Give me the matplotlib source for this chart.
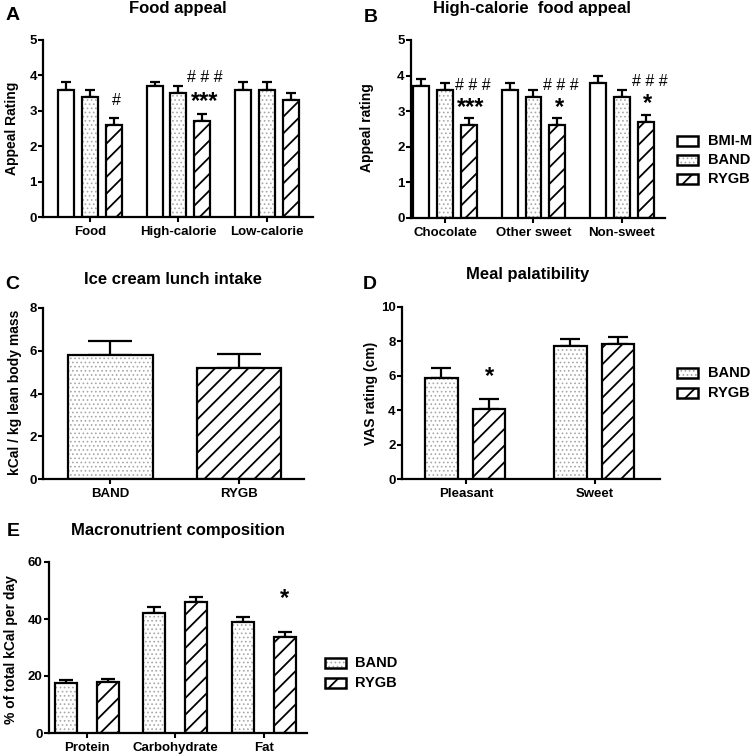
import matplotlib
matplotlib.use("Agg")
import matplotlib.pyplot as plt
from matplotlib.patches import Rectangle
import numpy as np

plt.rcParams['font.family'] = ['Liberation Sans', 'DejaVu Sans']
plt.rcParams['font.weight'] = 'bold'
plt.rcParams['hatch.linewidth'] = 1.3

W, H = 756, 755

# ---------------- data ----------------
groups3 = ['BMI-M', 'BAND', 'RYGB']
groups2 = ['BAND', 'RYGB']

A_cats = ['Food', 'High-calorie', 'Low-calorie']
A_bmi = [3.6, 3.7, 3.6]
A_bmi_sem = [0.2, 0.1, 0.2]
A_band = [3.4, 3.5, 3.6]
A_band_sem = [0.2, 0.2, 0.2]
A_rygb = [2.6, 2.7, 3.3]
A_rygb_sem = [0.2, 0.2, 0.2]
A_hash = ['#', '# # #', '']
A_star = ['', '***', '']

B_cats = ['Chocolate', 'Other sweet', 'Non-sweet']
B_bmi = [3.7, 3.6, 3.8]
B_bmi_sem = [0.2, 0.2, 0.2]
B_band = [3.6, 3.4, 3.4]
B_band_sem = [0.2, 0.2, 0.2]
B_rygb = [2.6, 2.6, 2.7]
B_rygb_sem = [0.2, 0.2, 0.2]
B_hash = ['# # #', '# # #', '# # #']
B_star = ['***', '*', '*']

C_cats = ['BAND', 'RYGB']
C_vals = [5.8, 5.2]
C_sem = [0.65, 0.65]

D_cats = ['Pleasant', 'Sweet']
D_band = [5.85, 7.72]
D_band_sem = [0.58, 0.42]
D_rygb = [4.07, 7.85]
D_rygb_sem = [0.58, 0.42]
D_star = ['*', '']

E_cats = ['Protein', 'Carbohydrate', 'Fat']
E_band = [17.6, 42.1, 39.0]
E_band_sem = [1.1, 2.1, 1.7]
E_rygb = [18.0, 46.0, 33.7]
E_rygb_sem = [0.9, 1.7, 1.7]
E_star = ['', '', '*']

fig = plt.figure(figsize=(W / 100, H / 100), dpi=100)

STYLE = {'BMI-M': 'white', 'BAND': 'dots', 'RYGB': 'hatch'}
DOT_COLOR = '#a8a8a8'
DOT_HATCH = '....'
STAR_FS = 17


def add_ax(l, t, r, b):
    return fig.add_axes([l / W, 1 - b / H, (r - l) / W, (b - t) / H])


def draw_bar(ax, x, h, w, kind, err, cap):
    if kind == 'dots':
        with plt.rc_context({'hatch.linewidth': 0.7}):
            bars = ax.bar(x, h, w, color='white', edgecolor=DOT_COLOR, linewidth=0,
                          hatch=DOT_HATCH, zorder=2)
        for p in bars:
            if hasattr(p, 'set_hatch_linewidth'):
                p.set_hatch_linewidth(0.7)
    elif kind == 'hatch':
        ax.bar(x, h, w, color='white', edgecolor='black', linewidth=0,
               hatch='//', zorder=2)
    ax.bar(x, h, w, facecolor='white' if kind == 'white' else 'none',
           edgecolor='black', linewidth=1.6, zorder=3)
    ax.errorbar(x, h, yerr=[[0], [err]], fmt='none', ecolor='black',
                elinewidth=1.6, capsize=cap, capthick=1.6, zorder=1)


def style_ax(ax, ylim, yticks, xlim, xticks, xlabels, fs=9.5):
    ax.set_ylim(*ylim)
    ax.set_xlim(*xlim)
    ax.set_yticks(yticks)
    ax.set_xticks(xticks)
    ax.set_xticklabels(xlabels, fontsize=fs, fontweight='bold')
    ax.tick_params(axis='y', labelsize=fs, width=1.5, length=3.5, pad=1)
    ax.tick_params(axis='x', width=1.5, length=3.5, pad=3)
    for s in ['top', 'right']:
        ax.spines[s].set_visible(False)
    for s in ['left', 'bottom']:
        ax.spines[s].set_linewidth(1.6)
    for lab in ax.get_yticklabels():
        lab.set_fontweight('bold')


def px_text(x, y, s, **kw):
    fig.text(x / W, 1 - y / H, s, **kw)


def legend(x_box, y_rows, labels, text_x):
    for y, lab in zip(y_rows, labels):
        kind = STYLE[lab]
        bx, by, bw, bh = x_box / W, 1 - (y + 5) / H, 21 / W, 10 / H
        if kind == 'dots':
            with plt.rc_context({'hatch.linewidth': 0.7}):
                r = Rectangle((bx, by), bw, bh, transform=fig.transFigure,
                              facecolor='white', edgecolor=DOT_COLOR,
                              linewidth=0, hatch=DOT_HATCH)
            if hasattr(r, 'set_hatch_linewidth'):
                r.set_hatch_linewidth(0.7)
            fig.patches.append(r)
        elif kind == 'hatch':
            fig.patches.append(Rectangle((bx, by), bw, bh, transform=fig.transFigure,
                                         facecolor='white', edgecolor='black',
                                         linewidth=0, hatch='//'))
        fig.patches.append(Rectangle((bx, by), bw, bh, transform=fig.transFigure,
                                     facecolor='none', edgecolor='black', linewidth=1.8))
        px_text(text_x, y, lab, fontsize=10.5, fontweight='bold', va='center', ha='left')


# ---------------- Panel A ----------------
axA = add_ax(43, 40, 313, 217)
x = np.arange(len(A_cats))
off, bw = 0.27, 0.18
for i in range(len(A_cats)):
    draw_bar(axA, x[i] - off, A_bmi[i], bw, 'white', A_bmi_sem[i], 3.6)
    draw_bar(axA, x[i], A_band[i], bw, 'dots', A_band_sem[i], 3.6)
    draw_bar(axA, x[i] + off, A_rygb[i], bw, 'hatch', A_rygb_sem[i], 3.6)
    if A_hash[i]:
        axA.text(x[i] + off + 0.03, A_rygb[i] + A_rygb_sem[i] + (1.05 if A_star[i] else 0.5),
                 A_hash[i], ha='center', va='center', fontsize=11.5, fontweight='normal')
    if A_star[i]:
        axA.text(x[i] + off + 0.03, A_rygb[i] + A_rygb_sem[i] + 0.36, A_star[i],
                 ha='center', va='center', fontsize=STAR_FS, fontweight='bold')
style_ax(axA, (0, 5), range(0, 6), (-0.53, 2.52), x, A_cats)
px_text(178, 9, 'Food appeal', fontsize=12, fontweight='bold', ha='center', va='center')
px_text(13, 15, 'A', fontsize=14, fontweight='bold', ha='center', va='center')
px_text(12, 128, 'Appeal Rating', fontsize=10, fontweight='bold', rotation=90,
        ha='center', va='center')

# ---------------- Panel B ----------------
axB = add_ax(411, 40, 665, 218)
x = np.arange(len(B_cats))
for i in range(len(B_cats)):
    draw_bar(axB, x[i] - off, B_bmi[i], bw, 'white', B_bmi_sem[i], 3.6)
    draw_bar(axB, x[i], B_band[i], bw, 'dots', B_band_sem[i], 3.6)
    draw_bar(axB, x[i] + off, B_rygb[i], bw, 'hatch', B_rygb_sem[i], 3.6)
    axB.text(x[i] + off + 0.04, B_rygb[i] + B_rygb_sem[i] + 0.93, B_hash[i],
             ha='center', va='center', fontsize=11.5, fontweight='normal')
    axB.text(x[i] + off + 0.02, B_rygb[i] + B_rygb_sem[i] + 0.31, B_star[i],
             ha='center', va='center', fontsize=STAR_FS, fontweight='bold')
style_ax(axB, (0, 5), range(0, 6), (-0.384, 2.486), x, B_cats)
px_text(532, 9, 'High-calorie  food appeal', fontsize=12, fontweight='bold',
        ha='center', va='center')
px_text(371, 18, 'B', fontsize=14, fontweight='bold', ha='center', va='center')
px_text(367, 128, 'Appeal rating', fontsize=10, fontweight='bold', rotation=90,
        ha='center', va='center')
legend(677, [141, 160, 179], groups3, 708)

# ---------------- Panel C ----------------
axC = add_ax(43, 308, 304, 479)
x = np.arange(len(C_cats))
for i in range(len(C_cats)):
    draw_bar(axC, x[i], C_vals[i], 0.66, STYLE[C_cats[i]], C_sem[i], 16)
style_ax(axC, (0, 8), range(0, 9, 2), (-0.525, 1.506), x, C_cats)
px_text(173, 280, 'Ice cream lunch intake', fontsize=12, fontweight='bold',
        ha='center', va='center')
px_text(12, 285, 'C', fontsize=14, fontweight='bold', ha='center', va='center')
px_text(15, 392, 'kCal / kg lean body mass', fontsize=10, fontweight='bold',
        rotation=90, ha='center', va='center')

# ---------------- Panel D ----------------
axD = add_ax(402, 307, 660, 479)
x = np.arange(len(D_cats))
for i in range(len(D_cats)):
    draw_bar(axD, x[i] - 0.19, D_band[i], 0.25, 'dots', D_band_sem[i], 7.2)
    draw_bar(axD, x[i] + 0.18, D_rygb[i], 0.25, 'hatch', D_rygb_sem[i], 7.2)
    if D_star[i]:
        axD.text(x[i] + 0.18, 5.95, D_star[i], ha='center', va='center',
                 fontsize=STAR_FS, fontweight='bold')
style_ax(axD, (0, 10), range(0, 11, 2), (-0.496, 1.504), x, D_cats)
px_text(528, 275, 'Meal palatibility', fontsize=12, fontweight='bold',
        ha='center', va='center')
px_text(370, 285, 'D', fontsize=14, fontweight='bold', ha='center', va='center')
px_text(371, 393, 'VAS rating (cm)', fontsize=10, fontweight='bold', rotation=90,
        ha='center', va='center')
legend(677, [373, 393], groups2, 708)

# ---------------- Panel E ----------------
axE = add_ax(49, 562, 307, 733)
x = np.arange(len(E_cats))
for i in range(len(E_cats)):
    draw_bar(axE, x[i] - 0.237, E_band[i], 0.25, 'dots', E_band_sem[i], 5)
    draw_bar(axE, x[i] + 0.237, E_rygb[i], 0.25, 'hatch', E_rygb_sem[i], 5)
    if E_star[i]:
        axE.text(x[i] + 0.237, 47.2, E_star[i], ha='center', va='center',
                 fontsize=STAR_FS, fontweight='bold')
style_ax(axE, (0, 60), range(0, 61, 20), (-0.43, 2.49), x, E_cats)
px_text(178, 531, 'Macronutrient composition', fontsize=12, fontweight='bold',
        ha='center', va='center')
px_text(13, 531, 'E', fontsize=14, fontweight='bold', ha='center', va='center')
px_text(11, 650, '% of total kCal per day', fontsize=10, fontweight='bold',
        rotation=90, ha='center', va='center')
legend(325, [663, 683], groups2, 355)

fig.savefig('out.png', dpi=100)
